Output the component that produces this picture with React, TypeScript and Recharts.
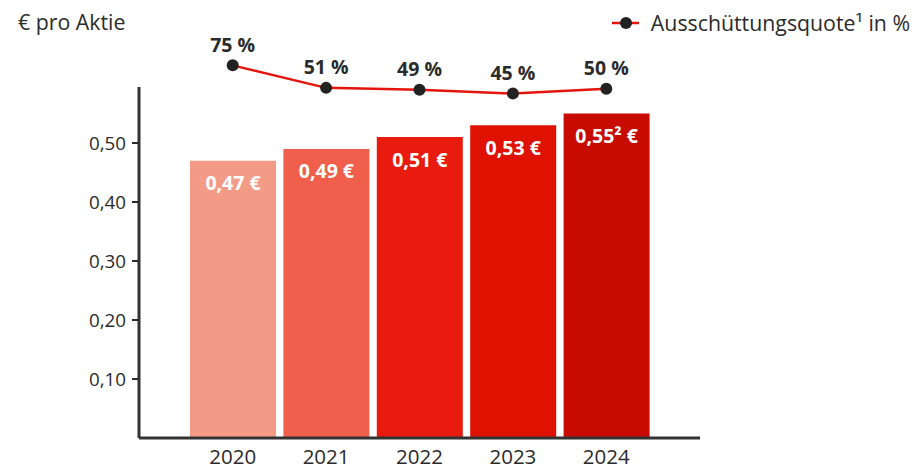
import React from 'react';
import {
  ComposedChart,
  Bar,
  Line,
  XAxis,
  YAxis,
  Cell,
  LabelList,
  Legend,
  ReferenceLine,
} from 'recharts';

const years = ['2020', '2021', '2022', '2023', '2024'];
const dividends = [0.47, 0.49, 0.51, 0.53, 0.55];
const dividendLabels = ['0,47 €', '0,49 €', '0,51 €', '0,53 €', '0,55² €'];
const payoutRatios = [75, 51, 49, 45, 50];
const payoutLabels = ['75 %', '51 %', '49 %', '45 %', '50 %'];
const yTicks = [0.1, 0.2, 0.3, 0.4, 0.5];
const barColors = ['#f49b88', '#f05e4c', '#e91b0e', '#df1100', '#c80b00'];

const unitLabel = '€ pro Aktie';
const lineName = 'Ausschüttungsquote¹ in %';

const data = years.map((year, i) => ({
  year,
  dividend: dividends[i],
  dividendLabel: dividendLabels[i],
  payout: payoutRatios[i],
  payoutLabel: payoutLabels[i],
}));

const FONT = '"Open Sans", Lato, sans-serif';
const DARK = '#2b2b2b';
const LINE_RED = '#e3150d';

const BarLabel = (props: any) => {
  const { x, y, width, value } = props;
  return (
    <text
      x={Number(x) + Number(width) / 2}
      y={Number(y) + 22}
      textAnchor="middle"
      dominantBaseline="central"
      fill="#ffffff"
      fontFamily={FONT}
      fontWeight={700}
      fontSize={19.5}
    >
      {value}
    </text>
  );
};

const LineLabel = (props: any) => {
  const { x, y, value } = props;
  return (
    <text
      x={Number(x)}
      y={Number(y) - 21}
      textAnchor="middle"
      dominantBaseline="central"
      fill={DARK}
      fontFamily={FONT}
      fontWeight={700}
      fontSize={19.5}
    >
      {value}
    </text>
  );
};

const LegendContent = () => (
  <div style={{ display: 'flex', alignItems: 'center', fontFamily: FONT, fontSize: 21.3, color: DARK, whiteSpace: 'nowrap' }}>
    <svg width={27} height={14} style={{ marginRight: 12 }}>
      <line x1={0} y1={7} x2={27} y2={7} stroke={LINE_RED} strokeWidth={2.5} />
      <circle cx={14} cy={7} r={6} fill="#222" />
    </svg>
    <span>{lineName}</span>
  </div>
);

export default function App() {
  return (
    <div style={{ position: 'absolute', left: 0, top: 0, width: 913, height: 464, background: '#fff', overflow: 'hidden' }}>
      <div
        style={{
          position: 'absolute',
          left: 18,
          top: 7,
          fontFamily: FONT,
          fontSize: 21.3,
          color: DARK,
          whiteSpace: 'nowrap',
        }}
      >
        {unitLabel}
      </div>
      <ComposedChart
        width={913}
        height={464}
        data={data}
        margin={{ top: 40, right: 213, bottom: 0, left: 79 }}
      >
        <XAxis
          dataKey="year"
          xAxisId="cat"
          axisLine={{ stroke: '#333', strokeWidth: 3 }}
          tickLine={false}
          height={26}
          padding={{ left: 47, right: 47 }}
          tick={{ fill: DARK, fontSize: 20.5, fontFamily: FONT }}
          tickMargin={5}
          interval={0}
        />
        <XAxis xAxisId="frame" type="number" domain={[0, 1]} allowDataOverflow hide />
        <YAxis
          yAxisId="left"
          width={60}
          domain={[0, 0.6746]}
          ticks={yTicks}
          axisLine={false}
          tickLine={{ stroke: DARK, strokeWidth: 2 }}
          tickSize={7}
          tickMargin={6}
          tickFormatter={(v: number) => v.toFixed(2).replace('.', ',')}
          tick={{ fill: DARK, fontSize: 18.8, fontFamily: FONT }}
        />
        <YAxis yAxisId="pct" orientation="right" domain={[-322, 102]} hide />
        <Bar
          dataKey="dividend"
          xAxisId="cat"
          yAxisId="left"
          barSize={86}
          isAnimationActive={false}
        >
          {data.map((d, i) => (
            <Cell key={d.year} fill={barColors[i]} />
          ))}
          <LabelList dataKey="dividendLabel" content={BarLabel} />
        </Bar>
        <ReferenceLine
          xAxisId="frame"
          yAxisId="left"
          segment={[{ x: 0, y: 0 }, { x: 0, y: 0.595 }]}
          stroke="#333"
          strokeWidth={3}
          ifOverflow="visible"
        />
        <Line
          dataKey="payout"
          name={lineName}
          xAxisId="cat"
          yAxisId="pct"
          stroke={LINE_RED}
          strokeWidth={2.5}
          dot={{ r: 6, fill: '#222', stroke: 'none' }}
          activeDot={false}
          isAnimationActive={false}
        >
          <LabelList dataKey="payoutLabel" content={LineLabel} />
        </Line>
        <Legend
          layout="vertical"
          align="center"
          verticalAlign="middle"
          content={LegendContent}
          wrapperStyle={{ position: 'absolute', top: 8, right: 3, left: 'auto', width: 'auto', height: 'auto' }}
        />
      </ComposedChart>
    </div>
  );
}
